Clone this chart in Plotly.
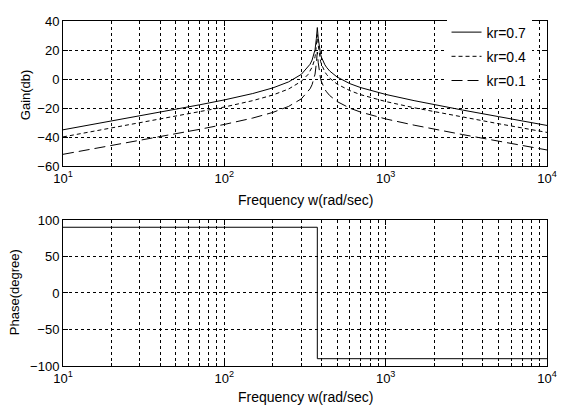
import plotly.graph_objects as go

# ---- data ----
freq = [10, 15, 20, 30, 50, 70, 100, 150, 200, 250, 300, 330, 340, 350, 360, 365, 372, 377, 382, 390,
        395, 400, 410, 420, 430, 450, 500, 600, 700, 1000, 1500, 2000, 3000, 5000, 7000, 10000]
gain_kr07 = [-35.0, -31.5, -29.0, -25.4, -20.9, -17.8, -14.4, -10.0, -6.1, -2.0, 3.2, 8.0, 10.2, 13.1, 17.2, 20.3, 28.0, 35.5, 28.1, 19.9,
             17.1, 15.0, 12.0, 9.8, 8.1, 5.5, 1.4, -3.2, -5.9, -10.6, -14.9, -17.7, -21.4, -25.9, -28.8, -32.0]
gain_kr04 = [-39.9, -36.3, -33.8, -30.3, -25.8, -22.7, -19.3, -14.9, -11.0, -6.9, -1.6, 3.1, 5.3, 8.2, 12.3, 15.4, 23.1, 30.6, 23.2, 15.0,
             12.2, 10.2, 7.1, 4.9, 3.2, 0.6, -3.5, -8.0, -10.8, -15.5, -19.8, -22.5, -26.2, -30.8, -33.7, -36.8]
gain_kr01 = [-51.9, -48.4, -45.9, -42.3, -37.8, -34.7, -31.3, -26.9, -23.0, -18.9, -13.7, -8.9, -6.7, -3.8, 0.3, 3.4, 11.1, 18.6, 11.2, 3.0,
             0.2, -1.9, -4.9, -7.1, -8.8, -11.4, -15.5, -20.1, -22.8, -27.5, -31.8, -34.6, -38.3, -42.8, -45.8, -48.9]
series_names = ["kr=0.7", "kr=0.4", "kr=0.1"]

phase_freq = [10, 377, 377, 10000]
phase_deg = [90, 90, -90, -90]

x_major = [10, 100, 1000, 10000]
x_major_text = ["10<sup>1</sup>", "10<sup>2</sup>", "10<sup>3</sup>", "10<sup>4</sup>"]
x_minor = [m * 10 ** e for e in range(1, 4) for m in range(2, 10)]
gain_ticks = [-60, -40, -20, 0, 20, 40]
phase_ticks = [-100, -50, 0, 50, 100]

FONT = "Liberation Sans, Arial, sans-serif"
BLACK = "#000000"
GRID = dict(showgrid=True, gridcolor=BLACK, griddash="3px,3px", gridwidth=1)

fig = go.Figure()
dashes = ["solid", "4px,3px", "11px,5px"]
for name, ys, dash in zip(series_names, [gain_kr07, gain_kr04, gain_kr01], dashes):
    fig.add_trace(go.Scatter(x=freq, y=ys, mode="lines", name=name, legendgroup=name,
                             line=dict(color=BLACK, width=1, dash=dash), xaxis="x", yaxis="y"))
fig.add_trace(go.Scatter(x=phase_freq, y=phase_deg, mode="lines", showlegend=False,
                         line=dict(color=BLACK, width=1), xaxis="x2", yaxis="y2"))

common_x = dict(type="log", range=[1, 4], tickmode="array", tickvals=x_major, ticktext=x_major_text,
                **GRID,
                minor=dict(tickvals=x_minor, ticks="inside", ticklen=3, tickcolor=BLACK, **GRID),
                showline=True, linecolor=BLACK, linewidth=1, mirror="allticks",
                ticks="inside", ticklen=5, tickcolor=BLACK, zeroline=False,
                ticklabeloverflow="allow",
                tickfont=dict(size=13, color=BLACK, family=FONT))
common_y = dict(**GRID, showline=True, linecolor=BLACK, linewidth=1, mirror="allticks",
                ticks="inside", ticklen=5, tickcolor=BLACK, zeroline=False,
                tickfont=dict(size=13, color=BLACK, family=FONT))

tfont = dict(size=13, color=BLACK, family=FONT)
annotations = [
    dict(text="Frequency w(rad/sec)", xref="paper", yref="paper", x=0.5, y=0.480, xanchor="center",
         yanchor="middle", showarrow=False, font=dict(size=14, color=BLACK, family=FONT)),
    dict(text="Frequency w(rad/sec)", xref="paper", yref="paper", x=0.5, y=-0.0909, xanchor="center",
         yanchor="middle", showarrow=False, font=dict(size=14, color=BLACK, family=FONT)),
    dict(text="Gain(db)", xref="paper", yref="paper", x=0, xshift=-38, y=0.785, xanchor="center",
         yanchor="middle", textangle=-90, showarrow=False, font=tfont),
    dict(text="Phase(degree)", xref="paper", yref="paper", x=0, xshift=-49, y=0.214, xanchor="center",
         yanchor="middle", textangle=-90, showarrow=False, font=tfont),
]

# The page body adds an 8px offset, so the figure is drawn 8px smaller and shifted.
fig.update_layout(
    width=557, height=402,
    margin=dict(l=55, r=18, t=6, b=44),
    paper_bgcolor="white", plot_bgcolor="white",
    font=dict(family=FONT, size=13, color=BLACK),
    xaxis=dict(common_x, domain=[0, 1], anchor="y"),
    yaxis=dict(common_y, domain=[0.5795, 1], anchor="x", range=[-60, 40], tickvals=gain_ticks),
    xaxis2=dict(common_x, domain=[0, 1], anchor="y2"),
    yaxis2=dict(common_y, domain=[0, 0.4233], anchor="x2", range=[-100, 100], tickvals=phase_ticks),
    legend=dict(x=0.7924, y=1.013, xanchor="left", yanchor="top", bgcolor="white", borderwidth=0,
                tracegroupgap=3, font=dict(size=14, color=BLACK, family=FONT)),
    annotations=annotations,
    showlegend=True,
)

fig.write_html("out.html")
